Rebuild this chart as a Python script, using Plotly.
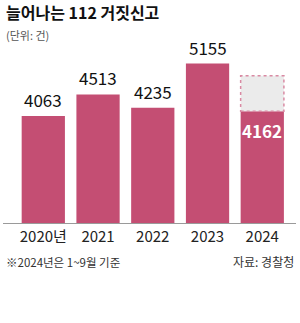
import plotly.graph_objects as go

# ---- data ----
years = ["2020", "2021", "2022", "2023", "2024"]
tick_labels = ["2020년", "2021", "2022", "2023", "2024"]
counts = [4063, 4513, 4235, 5155, 4162]
projected_2024 = 4900  # top of dotted (partial-year) box, estimated

title_text = "늘어나는 112 거짓신고"
unit_text = "(단위: 건)"
note_text = "※2024년은 1~9월 기준"
source_text = "자료: 경찰청"

BAR = "#C44E73"
BAR_W = 0.79
FONT = "Noto Sans CJK KR"
PLOT_H = 323 - 40 - 100

fig = go.Figure()

# main bars
fig.add_trace(go.Bar(
    x=list(range(len(years))), y=counts, width=BAR_W,
    marker=dict(color=BAR, line=dict(width=0)),
    hoverinfo="skip", showlegend=False,
))

# projected box for 2024 (light gray, dotted border)
last = len(years) - 1
fig.add_trace(go.Bar(
    x=[last], y=[projected_2024 - counts[last]], base=[counts[last]],
    width=BAR_W, marker=dict(color="#EBEBEB", line=dict(width=0)),
    hoverinfo="skip", showlegend=False,
))
fig.add_shape(type="rect", xref="x", yref="y",
              x0=last - BAR_W / 2, x1=last + BAR_W / 2,
              y0=counts[last], y1=projected_2024,
              line=dict(color="#D98AA3", width=1.5, dash="dot"),
              fillcolor="rgba(0,0,0,0)", layer="above")

# value labels
for i, v in enumerate(counts):
    if i == last:
        fig.add_annotation(x=i, y=v, xref="x", yref="y", text=f"<b>{v}</b>",
                           showarrow=False, yanchor="top", yshift=-5,
                           font=dict(family=FONT, size=17, color="white"))
    else:
        fig.add_annotation(x=i, y=v, xref="x", yref="y", text=str(v),
                           showarrow=False, yanchor="bottom", yshift=2,
                           font=dict(family=FONT, size=17, color="#111111"))

# title, unit, notes
fig.add_annotation(x=0, y=1 + 27.5 / PLOT_H, xref="paper", yref="paper",
                   xanchor="left", yanchor="middle",
                   text=f"<b>{title_text}</b>", showarrow=False, xshift=1,
                   font=dict(family=FONT, size=16, color="#111111"))
fig.add_annotation(x=0, y=1 + 5 / PLOT_H, xref="paper", yref="paper",
                   xanchor="left", yanchor="middle",
                   text=unit_text, showarrow=False, xshift=1,
                   font=dict(family=FONT, size=11, color="#555555"))
fig.add_annotation(x=0, y=-38.5 / PLOT_H, xref="paper", yref="paper",
                   xanchor="left", yanchor="middle",
                   text=note_text, showarrow=False, xshift=1,
                   font=dict(family=FONT, size=11.5, color="#333333"))
fig.add_annotation(x=1, y=-38.5 / PLOT_H, xref="paper", yref="paper",
                   xanchor="right", yanchor="middle",
                   text=source_text, showarrow=False, xshift=0,
                   font=dict(family=FONT, size=12, color="#333333"))

fig.update_layout(
    width=300, height=323,
    margin=dict(l=3, r=4, t=40, b=100),
    paper_bgcolor="white", plot_bgcolor="white",
    barmode="overlay",
    font=dict(family=FONT),
    xaxis=dict(
        tickmode="array", tickvals=list(range(len(years))), ticktext=tick_labels,
        range=[-0.736, 4.616], showgrid=False, zeroline=False,
        showline=True, linecolor="#9A9A9A", linewidth=1, ticks="",
        tickfont=dict(family=FONT, size=15, color="#222222"),
    ),
    yaxis=dict(range=[1834, 5646], visible=False, showgrid=False, zeroline=False),
)

fig.write_html("out.html")
